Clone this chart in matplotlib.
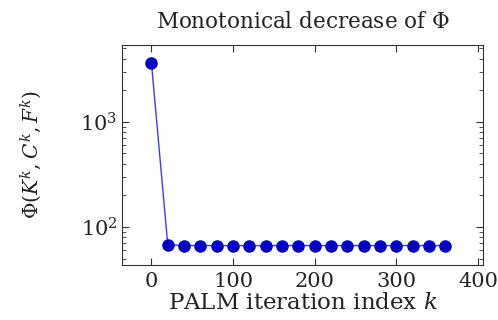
import matplotlib
matplotlib.use("Agg")
import matplotlib.pyplot as plt
import numpy as np

# PALM iterations (markers shown every 20 iterations)
iterations = [0, 20, 40, 60, 80, 100, 120, 140, 160, 180, 200,
              220, 240, 260, 280, 300, 320, 340, 360]
phi_values = [3650, 68, 66.5, 66.5, 66.5, 66.5, 66.5, 66.5, 66.5, 66.5, 66.5,
              66.5, 66.5, 66.5, 66.5, 66.5, 66.5, 66.5, 66.5]

plt.rcParams['font.family'] = ['DejaVu Serif']
plt.rcParams['mathtext.fontset'] = 'dejavuserif'

fig = plt.figure(figsize=(4.98, 3.2), dpi=100)
ax = fig.add_axes([0.245, 0.172, 0.725, 0.688])

ax.plot(iterations, phi_values, color='#3a3aff', linewidth=1.0,
        marker='o', markersize=8, markerfacecolor='#0000c0',
        markeredgecolor='#0000c0')

ax.set_yscale('log')
ax.set_xlim(-36, 406)
ax.set_ylim(43.5, 5400)
ax.set_xticks([0, 100, 200, 300, 400])
ax.tick_params(axis='both', which='both', direction='in', top=True, right=True,
               labelsize=15, colors='#333333', labelcolor='#222222')
ax.tick_params(which='major', length=5)
ax.tick_params(which='minor', length=3)
ax.tick_params(axis='x', pad=5)
for s in ax.spines.values():
    s.set_color('#333333')

ax.set_title(r'Monotonical decrease of $\Phi$', fontsize=15.5, pad=12,
             color='#222222')
ax.set_xlabel(r'PALM iteration index $k$', fontsize=16.5, labelpad=1,
              color='#222222')
ax.set_ylabel(r'$\Phi(K^k, C^k, F^k)$', fontsize=14.5, labelpad=26,
              color='#222222')

fig.savefig('out.png', dpi=100)
